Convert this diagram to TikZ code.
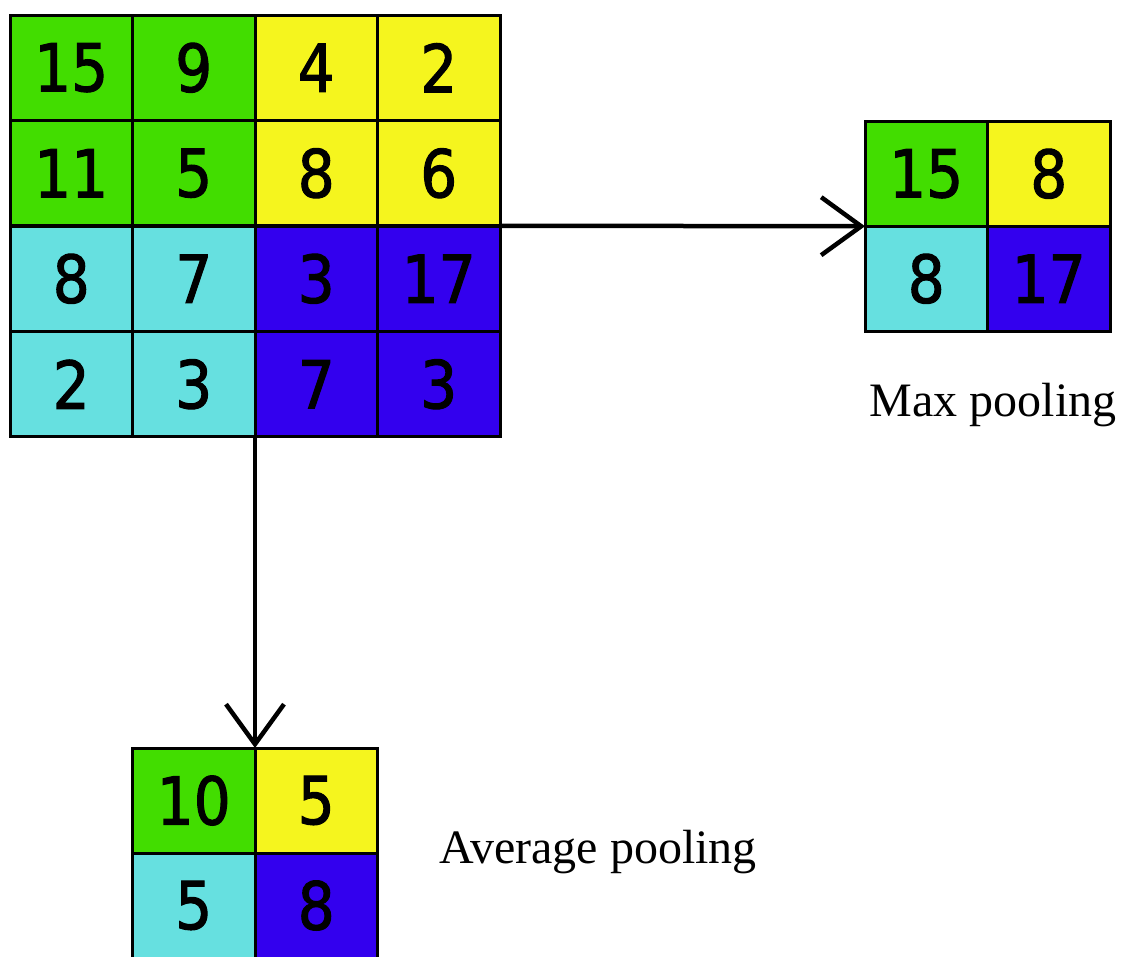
\documentclass[tikz,border=0pt]{standalone}
\usepackage{fontspec}
\setmainfont{Liberation Serif}
\newfontfamily\digitfont[FakeStretch=0.88,FakeBold=1.6]{DejaVu Sans}
\usetikzlibrary{arrows.meta}
\definecolor{cgreen}{RGB}{66,221,0}
\definecolor{cyellow}{RGB}{245,245,30}
\definecolor{ccyan}{RGB}{102,224,224}
\definecolor{cblue}{RGB}{51,0,238}
\tikzset{
  cell/.style={draw=black, line width=3pt, rectangle, inner sep=0pt, outer sep=0pt,
    minimum width=122.5pt, minimum height=105pt,
    font=\digitfont\fontsize{66}{68}\selectfont, text=black},
  G/.style={cell, fill=cgreen},
  Y/.style={cell, fill=cyellow},
  C/.style={cell, fill=ccyan},
  B/.style={cell, fill=cblue},
  arr/.style={line width=4.5pt, -{Straight Barb[length=40pt, width=58pt, line width=4.5pt]}},
  lbl/.style={font=\fontsize{48}{50}\selectfont, inner sep=0pt}
}
\begin{document}
\begin{tikzpicture}[x=1pt, y=-1pt]
\useasboundingbox (0,0) rectangle (1123,957);
% main 4x4 grid: x 10..500, y 15..437
\node[G] (m11) at (71.25,67.75) {15};
\node[G] (m12) at (193.75,67.75) {9};
\node[Y] (m13) at (316.25,67.75) {4};
\node[Y] (m14) at (438.75,67.75) {2};
\node[G] (m21) at (71.25,173.25) {11};
\node[G] (m22) at (193.75,173.25) {5};
\node[Y] (m23) at (316.25,173.25) {8};
\node[Y] (m24) at (438.75,173.25) {6};
\node[C] (m31) at (71.25,278.75) {8};
\node[C] (m32) at (193.75,278.75) {7};
\node[B] (m33) at (316.25,278.75) {3};
\node[B] (m34) at (438.75,278.75) {17};
\node[C] (m41) at (71.25,384.25) {2};
\node[C] (m42) at (193.75,384.25) {3};
\node[B] (m43) at (316.25,384.25) {7};
\node[B] (m44) at (438.75,384.25) {3};
% max pooling grid: x 865..1110, y 121..331
\node[G] (x11) at (926.25,173.75) {15};
\node[Y] (x12) at (1048.75,173.75) {8};
\node[C] (x21) at (926.25,278.75) {8};
\node[B] (x22) at (1048.75,278.75) {17};
% average pooling grid: x 133..378, y 748..957
\node[G] (a11) at (193.75,800.5) {10};
\node[Y] (a12) at (316.25,800.5) {5};
\node[C] (a21) at (193.75,905.5) {5};
\node[B] (a22) at (316.25,905.5) {8};
% labels
\node[lbl] (maxlbl) at (993,405) {Max pooling};
\node[lbl] (avglbl) at (598,852) {Average pooling};
% arrows
\draw[arr] (m24.south east) -- (x11.south west);
\draw[arr] (m43.south west) -- (a11.north east);
\end{tikzpicture}
\end{document}
